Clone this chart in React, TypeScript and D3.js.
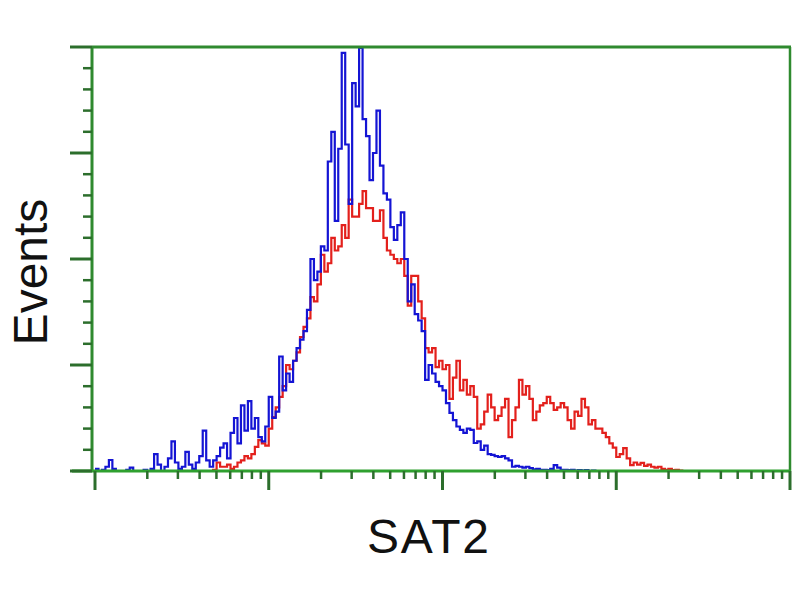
import React from "react";
import * as d3 from "d3";

// Histogram channels: channel c -> fluorescence 10^(c/50) (4 decades over 200 channels)
const channelsPerDecade = 50;
const blueStart = 0;
const blueCounts = [
  0.5, 0, 0.3, 1, 2.6, 0.5, 0, 0, 0, 0.3,
  0.8, 0, 0, 0, 0.3, 0, 0.5, 4, 1.5, 0,
  1, 3, 7, 2, 0.5, 1, 4.5, 1.5, 0.5, 2,
  3.5, 9.5, 2.5, 1, 2.5, 3.5, 5.5, 6.5, 3, 9,
  12.5, 6.5, 15.5, 9.5, 16.5, 10, 12.5, 8, 7, 10.5,
  17.5, 12.5, 14, 27, 19, 23, 21, 26, 29, 31,
  33, 38, 50, 45, 47, 53, 52, 73, 80, 59,
  76, 98.6, 77, 63, 91.5, 86, 99.8, 83, 79, 68.6,
  75, 85, 72, 65.5, 64, 57.5, 54.5, 58, 61, 50,
  40, 44, 37, 35.5, 33, 21.5, 25, 23, 21, 20,
  19, 16, 13.7, 12, 10.5, 9.7, 9, 10, 9.7, 6.6,
  7, 5, 6, 4, 3.8, 3.5, 3.3, 3.5, 3, 2.5,
  1, 1.2, 1, 0.8, 1, 0.7, 0.4, 0.5, 0.3, 0.3,
  0.2, 0.5, 1.4, 0.8, 0.3, 0.3, 0.2, 0.3, 0.1, 0.2,
  0.1, 0.2, 0, 0.1, 0, 0,
];
const redStart = 33;
const redCounts = [
  0, 0.3, 2, 1, 1, 1.5, 0.5, 1, 2, 2.5,
  3.5, 3, 4, 5.7, 7.3, 6.5, 6, 10, 12.7, 15,
  17.5, 20, 25, 24, 26, 28, 31.6, 34, 36, 41,
  40, 44, 51, 47, 49, 55, 52, 53, 58, 55,
  64, 60, 60, 63, 66, 62, 62, 59, 59, 61.5,
  55, 52, 51, 50, 49, 50, 46, 39, 46, 46,
  40, 36, 29, 28, 29, 24.5, 26, 24, 25, 17,
  22, 26, 19, 21.5, 18, 20, 17.5, 10, 11, 14,
  18, 15, 12, 13, 15, 17, 8, 12, 15, 21.5,
  18, 20, 17, 12, 14, 15.5, 16, 17.5, 16, 14.4,
  15, 16, 15, 12, 10, 14, 13, 17, 15, 11,
  12, 10, 10, 9, 8, 6.5, 5.5, 3.3, 4, 5.4,
  3, 1.4, 2, 1.5, 1.9, 1.2, 1.5, 1, 0.8, 1,
  0.5, 0.3, 0.5, 0.2, 0.3, 0.1, 0, 0,
];
const yTickValues = [0, 25, 50, 75, 100];
const xDecades = [1, 10, 100, 1000, 10000];
const xLabel = "SAT2";
const yLabel = "Events";

export default function App() {
  const W = 800;
  const H = 600;
  const left = 92;
  const x0 = 95;
  const x1 = 790;
  const top = 47;
  const bottom = 471;
  const frame = "#2f8a2f";
  const tickCol = "#2c6e2c";

  const x = d3.scaleLog().domain([1, 10000]).range([x0, x1]);
  const y = d3.scaleLinear().domain([0, 100]).range([bottom, top]);

  const toPts = (start: number, arr: number[]) =>
    arr.map((v, i) => ({ c: Math.pow(10, (start + i) / channelsPerDecade), v }));

  const line = d3
    .line<{ c: number; v: number }>()
    .x((d) => x(d.c))
    .y((d) => y(d.v))
    .curve(d3.curveStepAfter);

  const bluePath = line(toPts(blueStart, blueCounts)) || "";
  const redPath = line(toPts(redStart, redCounts)) || "";

  const yMinor = d3.range(0, 101, 5).filter((v) => v % 25 !== 0);
  const xMinor: number[] = [];
  for (let i = 0; i < xDecades.length - 1; i++) {
    for (let k = 2; k <= 9; k++) xMinor.push(xDecades[i] * k);
  }

  return (
    <svg width={W} height={H} style={{ position: "absolute", left: 0, top: 0, background: "#fff" }}>
      <rect x={0} y={0} width={W} height={H} fill="#fff" />
      {/* data */}
      <path d={redPath} fill="none" stroke="#e3201c" strokeWidth={2.2} strokeLinejoin="miter" />
      <path d={bluePath} fill="none" stroke="#1414d4" strokeWidth={2.2} strokeLinejoin="miter" />

      {/* frame */}
      <line x1={left} x2={x1 + 1} y1={top} y2={top} stroke={frame} strokeWidth={3} />
      <line x1={x1} x2={x1} y1={top} y2={bottom} stroke={frame} strokeWidth={2.5} />
      <line x1={left} x2={left} y1={top} y2={bottom} stroke={frame} strokeWidth={3} />
      <line x1={left - 20} x2={x1 + 1} y1={bottom} y2={bottom} stroke="#2fa02f" strokeWidth={3} />

      {/* y ticks */}
      {yTickValues.map((v) => (
        <line key={"ym" + v} x1={left - 22} x2={left} y1={y(v)} y2={y(v)} stroke={tickCol} strokeWidth={3} />
      ))}
      {yMinor.map((v) => (
        <line key={"yn" + v} x1={left - 9} x2={left} y1={y(v)} y2={y(v)} stroke={tickCol} strokeWidth={2.5} />
      ))}

      {/* x ticks */}
      {xDecades.map((v) => (
        <line key={"xm" + v} x1={x(v)} x2={x(v)} y1={bottom} y2={bottom + 19} stroke={tickCol} strokeWidth={3} />
      ))}
      {xMinor.map((v) => (
        <line key={"xn" + v} x1={x(v)} x2={x(v)} y1={bottom} y2={bottom + 8} stroke={tickCol} strokeWidth={2.5} />
      ))}

      {/* labels */}
      <text
        x={428}
        y={553}
        textAnchor="middle"
        fontFamily="Liberation Sans, Arial, sans-serif"
        fontSize={48}
        textLength={122}
        lengthAdjust="spacing"
        fill="#111"
      >
        {xLabel}
      </text>
      <text
        transform={`translate(47, ${272}) rotate(-90)`}
        textAnchor="middle"
        fontFamily="Liberation Sans, Arial, sans-serif"
        fontSize={48}
        fill="#111"
      >
        {yLabel}
      </text>
    </svg>
  );
}
